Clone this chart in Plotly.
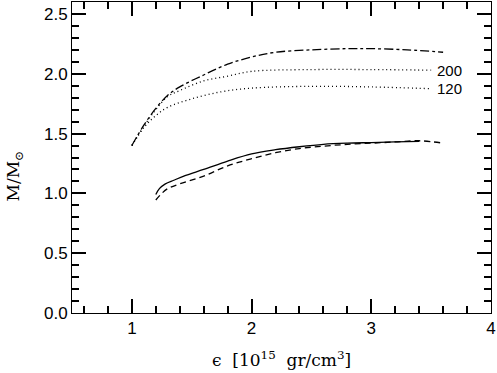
import plotly.graph_objects as go

# dash-dot curve (top)
eps_dd = [1.0, 1.1, 1.2, 1.3, 1.4, 1.6, 1.8, 2.0, 2.2, 2.5, 2.8, 3.0, 3.3, 3.6]
m_dd = [1.40, 1.57, 1.71, 1.82, 1.89, 1.99, 2.08, 2.14, 2.18, 2.20, 2.21, 2.21, 2.20, 2.18]

# dotted curve labelled 200
eps_200 = [1.0, 1.1, 1.2, 1.3, 1.4, 1.6, 1.8, 2.0, 2.5, 3.0, 3.5]
m_200 = [1.40, 1.56, 1.70, 1.81, 1.86, 1.94, 1.98, 2.02, 2.035, 2.035, 2.03]

# dotted curve labelled 120
eps_120 = [1.0, 1.1, 1.2, 1.3, 1.5, 1.75, 2.0, 2.5, 3.0, 3.5]
m_120 = [1.40, 1.55, 1.65, 1.72, 1.79, 1.85, 1.88, 1.895, 1.89, 1.875]

# solid curve
eps_solid = [1.20, 1.23, 1.28, 1.35, 1.45, 1.6, 1.8, 2.0, 2.2, 2.4, 2.6, 2.8, 3.0, 3.2, 3.4]
m_solid = [0.99, 1.04, 1.08, 1.11, 1.15, 1.20, 1.27, 1.33, 1.365, 1.39, 1.41, 1.42, 1.425, 1.43, 1.435]

# dashed curve
eps_dash = [1.20, 1.25, 1.3, 1.4, 1.6, 1.8, 2.0, 2.2, 2.4, 2.6, 2.8, 3.0, 3.2, 3.4, 3.6]
m_dash = [0.945, 1.0, 1.04, 1.08, 1.145, 1.23, 1.29, 1.34, 1.375, 1.395, 1.41, 1.42, 1.43, 1.44, 1.42]

labels = ['200', '120']
label_y = [2.03, 1.875]

fig = go.Figure()
curves = [
    (eps_dd, m_dd, 'dashdot'),
    (eps_200, m_200, '1px,3px'),
    (eps_120, m_120, '1px,3px'),
    (eps_solid, m_solid, 'solid'),
    (eps_dash, m_dash, '6px,4px'),
]
for x, y, dash in curves:
    fig.add_trace(go.Scatter(x=x, y=y, mode='lines', line_shape='spline',
                             line=dict(color='black', width=1.3, dash=dash),
                             showlegend=False, hoverinfo='skip'))

for txt, yv in zip(labels, label_y):
    fig.add_annotation(x=3.53, y=yv, text=txt, showarrow=False, xanchor='left',
                       font=dict(family='Liberation Sans', size=15, color='black'))

fig.add_annotation(xref='paper', yref='paper', x=0.5, y=-0.105, yanchor='top',
                   text='\u03f5  [10<sup>15</sup>  gr/cm<sup>3</sup>]', showarrow=False,
                   font=dict(family='DejaVu Serif', size=17, color='black'))
fig.add_annotation(xref='paper', yref='paper', x=-0.17, y=0.44, textangle=-90,
                   text='M/M<sub>\u2299</sub>', showarrow=False,
                   font=dict(family='DejaVu Serif', size=17, color='black'))

# gridlines kept on but white, like the plain axis setup that drew mirrored ticks
fig.update_xaxes(range=[0.5, 4], ticks='inside', ticklen=14, tickcolor='black', tickwidth=1.5,
                 showline=True, linecolor='black', mirror='allticks', gridcolor='white',
                 tickfont=dict(family='Liberation Sans', size=17, color='black'),
                 minor=dict(dtick=0.2, ticks='inside', ticklen=7, tickcolor='black'))
fig.update_yaxes(range=[0, 2.6], dtick=0.5, tickformat='.1f', ticks='inside', ticklen=14,
                 tickcolor='black', tickwidth=1.5, showline=True, linecolor='black',
                 mirror='allticks', gridcolor='white',
                 tickfont=dict(family='Liberation Sans', size=17, color='black'),
                 minor=dict(dtick=0.1, ticks='inside', ticklen=7, tickcolor='black'))

fig.update_layout(width=497, height=373, plot_bgcolor='white', paper_bgcolor='white',
                  margin=dict(l=72, r=6, t=2, b=60))

fig.write_html('out.html', config={'displayModeBar': False},
               post_script="document.body.style.margin='0';")
